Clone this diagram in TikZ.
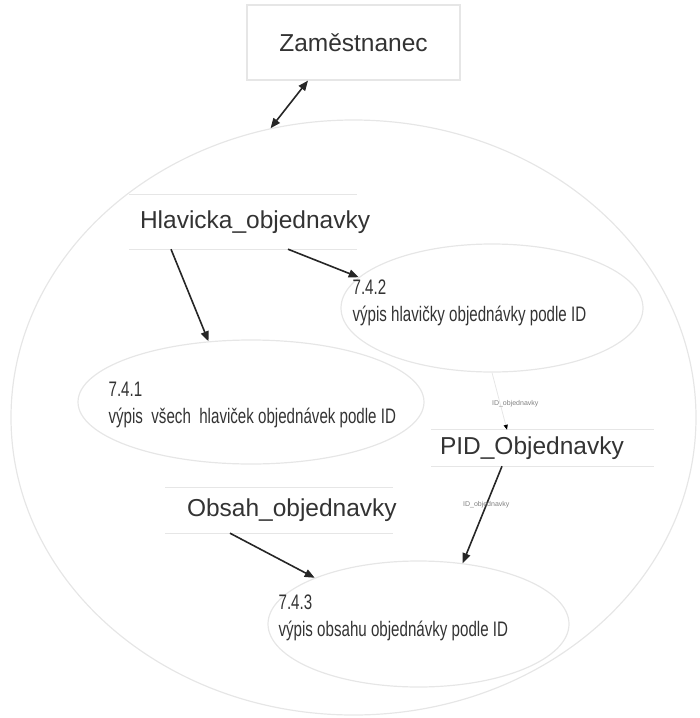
\documentclass[tikz,border=0pt]{standalone}
\usepackage{fontspec}
\setmainfont{Liberation Sans}
\newfontfamily\narrowfont[FakeStretch=0.72]{Liberation Sans}
\usepackage{tikz}
\usetikzlibrary{positioning,arrows.meta,shapes.geometric}
\definecolor{linegray}{HTML}{E6E6E6}
\definecolor{txtgray}{HTML}{333333}
\newcommand{\bigfnt}{\fontsize{24.5}{28}\selectfont}
\newcommand{\procfnt}{\narrowfont\fontsize{21}{27}\selectfont}

\begin{document}
\begin{tikzpicture}[x=1pt, y=-1pt,
  ent/.style={draw=linegray, line width=1.2pt, rectangle, minimum width=213pt, minimum height=75pt, inner sep=0pt, font=\bigfnt, text=txtgray},
  store/.style={inner ysep=0pt, align=left, font=\bigfnt, text=txtgray},
  storeline/.style={draw=linegray, line width=1.2pt},
  proc/.style={ellipse, draw=linegray, line width=1.2pt, inner sep=0pt},
  ptext/.style={align=left, inner sep=0pt, font=\procfnt, text=txtgray},
  idl/.style={font=\fontsize{7}{8}\selectfont, text=gray},
  arr/.style={-{Triangle[length=10pt, width=8pt]}, line width=1.6pt, draw=black!85},
  idline/.style={-{Triangle[length=5pt, width=4pt, color=black]}, line width=0.8pt, draw=linegray}
]
\useasboundingbox (0,0) rectangle (700,718);

% context and the employee
\node[proc, minimum width=685pt, minimum height=595pt] (ctx) at (353.5,417.5) {};
\node[ent] (zam) at (353.5,42.5) {Zaměstnanec};

% data stores
\node[store, text width=206pt, inner xsep=11pt, minimum height=54pt] (hlav) at (243,222) {\mbox{Hlavicka\_objednavky}};
\node[store, text width=205pt, inner xsep=9pt, minimum height=36pt] (pid) at (542.5,448) {\mbox{PID\_Objednavky}};
\node[store, text width=184pt, inner xsep=22pt, minimum height=45pt] (obsah) at (279,510.5) {\mbox{Obsah\_objednavky}};
\foreach \s in {hlav,pid,obsah}
  \draw[storeline] (\s.north west) -- (\s.north east) (\s.south west) -- (\s.south east);

% processes
\node[proc, minimum width=346pt, minimum height=124pt] (p741) at (251,402) {};
\node[proc, minimum width=302pt, minimum height=128pt] (p742) at (492,308) {};
\node[proc, minimum width=301pt, minimum height=126pt] (p743) at (418.5,624) {};
\node[ptext, anchor=west] (t741) at ([xshift=31pt, yshift=-3pt]p741.west) {7.4.1\\výpis\ \ všech\ \ hlaviček objednávek podle ID};
\node[ptext, anchor=west] (t742) at ([xshift=12pt, yshift=5.5pt]p742.west) {7.4.2\\výpis hlavičky objednávky podle ID};
\node[ptext, anchor=west] (t743) at ([xshift=11pt, yshift=6.5pt]p743.west) {7.4.3\\výpis obsahu objednávky podle ID};

% flows
\draw[arr, {Triangle[length=10pt, width=8pt]}-{Triangle[length=10pt, width=8pt]}] ([xshift=-45.5pt]zam.south) -- (ctx.106);
\draw[arr] ([xshift=-72pt]hlav.south) -- (p741.125);
\draw[arr] ([xshift=45pt]hlav.south) -- (p742.167);
\draw[idline] (p742.south) -- node[idl, pos=0.55, xshift=15pt] {ID\_objednavky} ([xshift=-35.5pt]pid.north);
\draw[arr] ([xshift=-40.5pt]pid.south) -- node[idl, pos=0.4] {ID\_objednavky} (p743.54);
\draw[arr] ([xshift=-49pt]obsah.south) -- (p743.156);
\end{tikzpicture}
\end{document}
